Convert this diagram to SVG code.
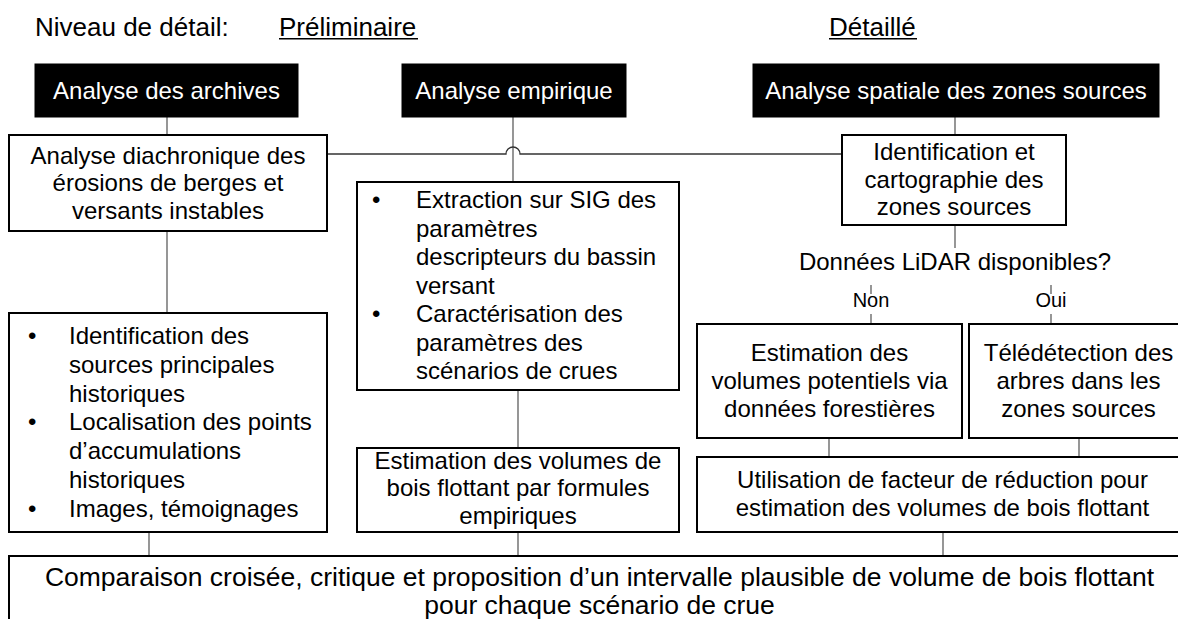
<svg xmlns="http://www.w3.org/2000/svg" width="1178" height="619" viewBox="0 0 1178 619">
<style>
text{font-family:"Liberation Sans",Arial,sans-serif;font-size:24px;fill:#000}
.hdr{font-size:26px}
.c{text-anchor:middle}
.w{fill:#fff}
.sm{font-size:20px}
.big{font-size:26.5px}
.blk{fill:#000;stroke:#000;stroke-width:1}
.box{fill:#fff;stroke:#000;stroke-width:2}
.con line,.con path{stroke:#6a6a6a;stroke-width:1.4;fill:none}
.con .h{stroke:#333;stroke-width:1.3}
.ul{stroke:#000;stroke-width:1.6}
</style>
<rect width="1178" height="619" fill="#fff"/>
<g id="header">
<text class="hdr" x="35" y="36">Niveau de détail:</text>
<text class="hdr" x="279" y="36">Préliminaire</text>
<line class="ul" x1="279" y1="38.8" x2="418" y2="38.8"/>
<text class="hdr" x="829" y="36">Détaillé</text>
<line class="ul" x1="829" y1="38.8" x2="917" y2="38.8"/>
</g>
<g class="con" id="connectors">
<line x1="167" y1="117" x2="167" y2="135"/>
<line x1="167" y1="231" x2="167" y2="313"/>
<line x1="513" y1="117" x2="513" y2="182"/>
<path class="h" d="M327 154 H506 A7 7 0 0 1 520 154 H842"/>
<line x1="518" y1="390" x2="518" y2="448"/>
<line x1="955" y1="117" x2="955" y2="135"/>
<line x1="955" y1="225" x2="955" y2="248"/>
<line x1="871" y1="285" x2="871" y2="294"/>
<line x1="871" y1="314" x2="871" y2="324"/>
<line x1="1051" y1="285" x2="1051" y2="294"/>
<line x1="1051" y1="314" x2="1051" y2="324"/>
<line x1="829" y1="438" x2="829" y2="457"/>
<line x1="1079" y1="438" x2="1079" y2="457"/>
<line x1="149" y1="532" x2="149" y2="556"/>
<line x1="518" y1="532" x2="518" y2="556"/>
<line x1="943" y1="532" x2="943" y2="556"/>
</g>
<g id="archives">
<rect class="blk" x="35" y="64" width="263" height="53"/>
<text class="c w" x="166.5" y="99">Analyse des archives</text>
</g>
<g id="empirique">
<rect class="blk" x="402" y="64" width="224" height="53"/>
<text class="c w" x="514" y="99">Analyse empirique</text>
</g>
<g id="spatiale">
<rect class="blk" x="753" y="64" width="406" height="53"/>
<text class="c w" x="956" y="99">Analyse spatiale des zones sources</text>
</g>
<g id="diachronique">
<rect class="box" x="9" y="135" width="318" height="96"/>
<text class="c" x="168" y="163.5">Analyse diachronique des</text>
<text class="c" x="168" y="191">érosions de berges et</text>
<text class="c" x="168" y="218.5">versants instables</text>
</g>
<g id="historique">
<rect class="box" x="9" y="313" width="318" height="219"/>
<text x="28" y="344">•</text>
<text x="69" y="344">Identification des</text>
<text x="69" y="372.8">sources principales</text>
<text x="69" y="401.6">historiques</text>
<text x="28" y="430.4">•</text>
<text x="69" y="430.4">Localisation des points</text>
<text x="69" y="459.2">d’accumulations</text>
<text x="69" y="488">historiques</text>
<text x="28" y="516.8">•</text>
<text x="69" y="516.8">Images, témoignages</text>
</g>
<g id="sig">
<rect class="box" x="357" y="182" width="322" height="208"/>
<text x="372" y="208">•</text>
<text x="416" y="208">Extraction sur SIG des</text>
<text x="416" y="236.5">paramètres</text>
<text x="416" y="265">descripteurs du bassin</text>
<text x="416" y="293.5">versant</text>
<text x="372" y="322">•</text>
<text x="416" y="322">Caractérisation des</text>
<text x="416" y="350.5">paramètres des</text>
<text x="416" y="379">scénarios de crues</text>
</g>
<g id="formules">
<rect class="box" x="357" y="448" width="322" height="84"/>
<text class="c" x="518" y="468.5">Estimation des volumes de</text>
<text class="c" x="518" y="496">bois flottant par formules</text>
<text class="c" x="518" y="523.5">empiriques</text>
</g>
<g id="identification">
<rect class="box" x="842" y="135" width="224" height="90"/>
<text class="c" x="954" y="160">Identification et</text>
<text class="c" x="954" y="187.5">cartographie des</text>
<text class="c" x="954" y="215">zones sources</text>
</g>
<g id="lidar">
<text class="c" x="955" y="270">Données LiDAR disponibles?</text>
<text class="c sm" x="871" y="307">Non</text>
<text class="c sm" x="1051" y="307">Oui</text>
</g>
<g id="forestieres">
<rect class="box" x="697" y="324" width="265" height="114"/>
<text class="c" x="829.5" y="361">Estimation des</text>
<text class="c" x="829.5" y="389">volumes potentiels via</text>
<text class="c" x="829.5" y="417">données forestières</text>
</g>
<g id="teledetection">
<rect class="box" x="969" y="324" width="219" height="114"/>
<text class="c" x="1078.5" y="361">Télédétection des</text>
<text class="c" x="1078.5" y="389">arbres dans les</text>
<text class="c" x="1078.5" y="417">zones sources</text>
</g>
<g id="reduction">
<rect class="box" x="697" y="457" width="491" height="75"/>
<text class="c" x="942.5" y="488">Utilisation de facteur de réduction pour</text>
<text class="c" x="942.5" y="515.5">estimation des volumes de bois flottant</text>
</g>
<g id="comparaison">
<rect class="box" x="9" y="556" width="1181" height="90"/>
<text class="c big" x="599.5" y="586">Comparaison croisée, critique et proposition d’un intervalle plausible de volume de bois flottant</text>
<text class="c big" x="599.5" y="614">pour chaque scénario de crue</text>
</g>
</svg>
